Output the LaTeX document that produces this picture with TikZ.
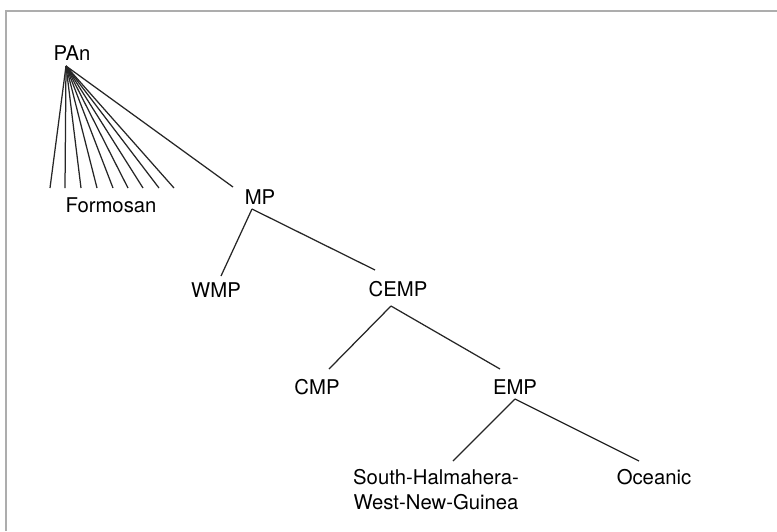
\documentclass[tikz,border=0pt]{standalone}
\usepackage{fontspec}
\setmainfont{TeX Gyre Heros}
\begin{document}
\begin{tikzpicture}[x=1pt,y=-1pt,
  lbl/.style={inner sep=0pt, anchor=base, font=\fontsize{20.3}{25}\selectfont, text=black},
  edge/.style={draw=black!85, line width=1.25pt},
  frame/.style={draw=black!32, line width=1.6pt}]
\useasboundingbox (0,0) rectangle (777,531);
\draw[frame] (6,531) -- (6,11) -- (777,11);
% labels
\node[lbl] (pan) at (72,60.3) {PAn};
\node[lbl] (form) at (111,212.3) {Formosan};
\node[lbl] (mp) at (260,204.3) {MP};
\node[lbl] (wmp) at (216,297.3) {WMP};
\node[lbl] (cemp) at (398,296.3) {CEMP};
\node[lbl] (cmp) at (317,394.3) {CMP};
\node[lbl] (emp) at (515,394.3) {EMP};
\node[lbl, align=center] (shwng) at (436,509) {South-Halmahera-\\West-New-Guinea};
\node[lbl] (oce) at (654,484) {Oceanic};
% connection points
\coordinate (panB) at (66,66);
\foreach \i/\x in {1/50,2/65,3/81,4/97,5/113,6/128,7/143,8/159,9/174}
  \coordinate (f\i) at (\x,188);
\coordinate (mpT) at (233,187);
\coordinate (mpB) at (252,209);
\coordinate (wmpT) at (221,276);
\coordinate (cempT) at (375,270);
\coordinate (cempB) at (391,306);
\coordinate (cmpT) at (329,369);
\coordinate (empT) at (500,369);
\coordinate (empB) at (515,399);
\coordinate (shT) at (453,461);
\coordinate (oceT) at (639,461);
% edges
\foreach \i in {1,...,9} \draw[edge] (panB) -- (f\i);
\draw[edge] (panB) -- (mpT);
\draw[edge] (mpB) -- (wmpT);
\draw[edge] (mpB) -- (cempT);
\draw[edge] (cempB) -- (cmpT);
\draw[edge] (cempB) -- (empT);
\draw[edge] (empB) -- (shT);
\draw[edge] (empB) -- (oceT);
\end{tikzpicture}
\end{document}
